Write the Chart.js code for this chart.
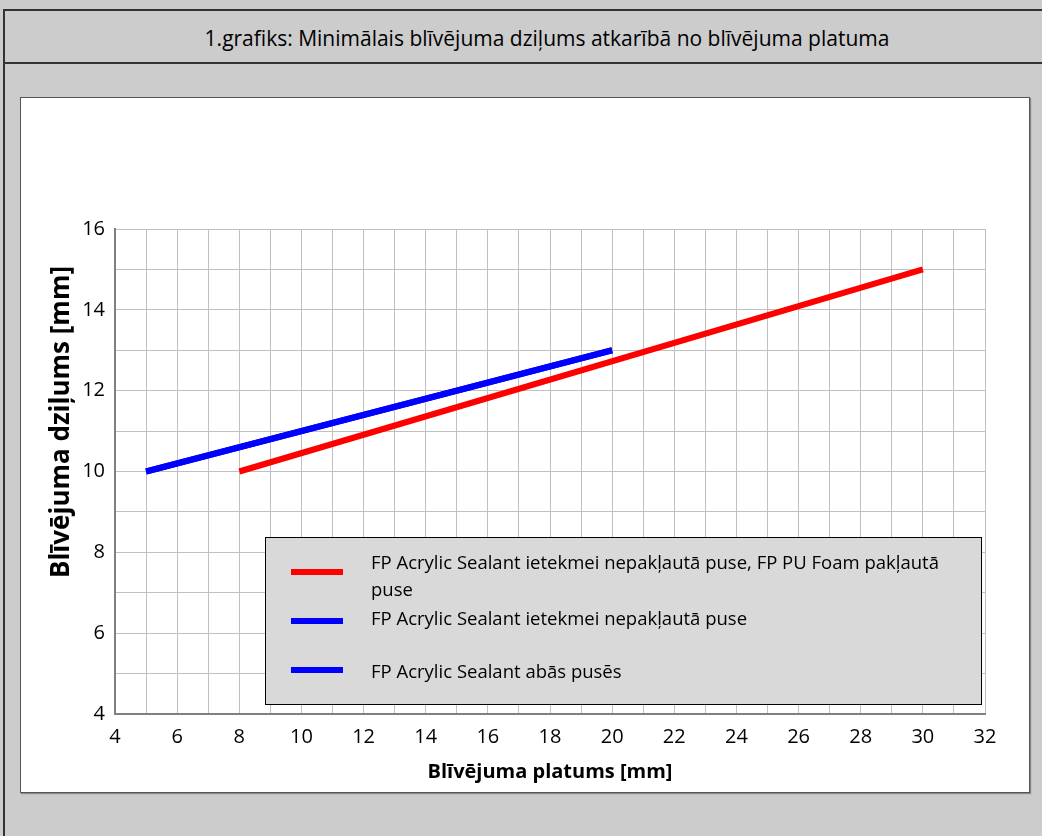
<!DOCTYPE html>
<html>
<head>
<meta charset="utf-8">
<script src="https://cdn.jsdelivr.net/npm/chart.js@4.4.1/dist/chart.umd.min.js"></script>
<style>
  body { margin: 0; background: #cccccc; width: 1042px; height: 836px; overflow: hidden; font-family: 'Open Sans', sans-serif; }
  #frame { position: absolute; left: 3px; top: 9px; width: 1060px; height: 860px; border: 2px solid #333; }
  #titulbar { position: absolute; left: 0; top: 0; width: 100%; height: 51px; border-bottom: 2px solid #333;
    font-size: 21px; line-height: 55px; text-align: center; color: #000; }
  #titulbar span { position: relative; left: 12px; }
  #panelis { position: absolute; left: 20px; top: 97px; width: 1008px; height: 694px; background: #fff;
    border: 1px solid #555; box-shadow: 1px 1px 1px #888; }
  #div_canva { position: absolute; left: 0; top: 0; width: 1008px; height: 694px; }
</style>
</head>
<body>
<div id="frame">
  <div id="titulbar"><span>1.grafiks: Minimālais blīvējuma dziļums atkarībā no blīvējuma platuma</span></div>
</div>
<div id="panelis">
  <div id="div_canva"><canvas id="myChart"></canvas></div>
</div>
<script>
// dati
const serijuNosaukumi = [
  'FP Acrylic Sealant ietekmei nepakļautā puse, FP PU Foam pakļautā puse',
  'FP Acrylic Sealant ietekmei nepakļautā puse',
  'FP Acrylic Sealant abās pusēs'
];
const platumsSarkana = [8, 30];
const dzilumsSarkana = [10, 15];
const platumsZila = [5, 20];
const dzilumsZila = [10, 13];
const platumsZila2 = [5, 20];
const dzilumsZila2 = [10, 13];
const xTicks = [4, 6, 8, 10, 12, 14, 16, 18, 20, 22, 24, 26, 28, 30, 32];
const yTicks = [4, 6, 8, 10, 12, 14, 16];
const krasas = ['#ff0000', '#0000ff', '#0000ff'];
const yNosaukums = 'Blīvējuma dziļums [mm]';
const xNosaukums = 'Blīvējuma platums [mm]';

function punkti(xs, ys) {
  return xs.map((x, i) => ({ x: x, y: ys[i] }));
}

const fonts = '"Open Sans", sans-serif';

// legenda un y ass nosaukums zimeti pa rokai
const legendaPlugin = {
  id: 'legendaKaste',
  afterDraw(chart) {
    const ctx = chart.ctx;
    const a = chart.chartArea;

    // y ass nosaukums (originala nav centrets pret asi)
    ctx.save();
    ctx.translate(41, a.top + 193);
    ctx.rotate(-Math.PI / 2);
    ctx.font = 'bold 26px ' + fonts;
    ctx.fillStyle = '#000';
    ctx.textAlign = 'center';
    ctx.textBaseline = 'middle';
    ctx.fillText(yNosaukums, 0, 0);
    ctx.restore();

    const bx = a.left + 150, by = a.top + 308;
    const bw = 716, bh = 167;
    ctx.save();
    ctx.fillStyle = '#d9d9d9';
    ctx.fillRect(bx, by, bw, bh);
    ctx.strokeStyle = '#000';
    ctx.lineWidth = 1;
    ctx.strokeRect(bx + 0.5, by + 0.5, bw, bh);

    ctx.font = '18.5px ' + fonts;
    ctx.fillStyle = '#000';
    ctx.textBaseline = 'middle';
    const rindas = [27, 83, 136];
    const paraugY = [35, 84, 133];
    chart.data.datasets.forEach((ds, i) => {
      ctx.strokeStyle = ds.borderColor;
      ctx.lineWidth = 6;
      ctx.beginPath();
      ctx.moveTo(bx + 26, by + paraugY[i]);
      ctx.lineTo(bx + 78, by + paraugY[i]);
      ctx.stroke();

      // teksta lauzsana
      const vardi = ds.label.split(' ');
      const lines = [];
      let cur = '';
      vardi.forEach(v => {
        const t = cur ? cur + ' ' + v : v;
        if (ctx.measureText(t).width > 595 && cur) { lines.push(cur); cur = v; }
        else cur = t;
      });
      lines.push(cur);
      lines.forEach((l, j) => {
        ctx.fillText(l, bx + 106, by + rindas[i] + j * 27);
      });
    });
    ctx.restore();
  }
};

new Chart(document.getElementById('myChart'), {
  type: 'line',
  data: {
    datasets: [
      { label: serijuNosaukumi[0], data: punkti(platumsSarkana, dzilumsSarkana), borderColor: krasas[0], backgroundColor: krasas[0], borderWidth: 6, pointRadius: 0, order: 3 },
      { label: serijuNosaukumi[1], data: punkti(platumsZila, dzilumsZila), borderColor: krasas[1], backgroundColor: krasas[1], borderWidth: 6, pointRadius: 0, order: 2 },
      { label: serijuNosaukumi[2], data: punkti(platumsZila2, dzilumsZila2), borderColor: krasas[2], backgroundColor: krasas[2], borderWidth: 6, pointRadius: 0, order: 1 }
    ]
  },
  options: {
    responsive: true,
    maintainAspectRatio: false,
    animation: false,
    layout: { padding: { left: 0, top: 131, right: 44, bottom: 8 } },
    scales: {
      x: {
        type: 'linear',
        min: 4, max: 32,
        afterFit: s => { s.height = 70; },
        afterBuildTicks: s => { s.ticks = []; for (let v = 4; v <= 32; v++) s.ticks.push({ value: v }); },
        ticks: {
          autoSkip: false,
          maxRotation: 0,
          padding: 11,
          color: '#000',
          font: { family: fonts, size: 20 },
          callback: v => xTicks.includes(v) ? String(v) : ''
        },
        grid: { color: '#c0c0c0', lineWidth: 1, drawTicks: false },
        border: { color: '#808080', width: 2 },
        title: { display: true, text: xNosaukums, color: '#000', font: { family: fonts, size: 20, weight: 'bold' }, padding: { top: 4, bottom: 0 } }
      },
      y: {
        type: 'linear',
        min: 4, max: 16,
        afterFit: s => { s.width = 94; },
        afterBuildTicks: s => { s.ticks = []; for (let v = 4; v <= 16; v++) s.ticks.push({ value: v }); },
        ticks: {
          autoSkip: false,
          padding: 10,
          color: '#000',
          font: { family: fonts, size: 20 },
          callback: v => yTicks.includes(v) ? String(v) : ''
        },
        grid: { color: '#c0c0c0', lineWidth: 1, drawTicks: false },
        border: { color: '#808080', width: 2 },
        title: { display: false }
      }
    },
    plugins: {
      legend: { display: false },
      title: { display: false },
      tooltip: { enabled: false }
    }
  },
  plugins: [legendaPlugin]
});
</script>
</body>
</html>
